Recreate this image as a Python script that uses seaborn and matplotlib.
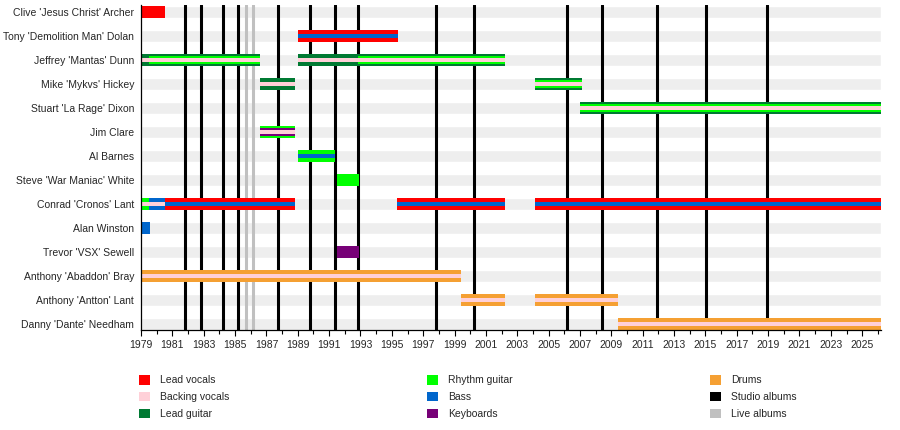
import matplotlib
matplotlib.use("Agg")
import matplotlib.pyplot as plt
from matplotlib.patches import Patch
import seaborn as sns

# band members, top to bottom
members = [
    "Clive 'Jesus Christ' Archer",
    "Tony 'Demolition Man' Dolan",
    "Jeffrey 'Mantas' Dunn",
    "Mike 'Mykvs' Hickey",
    "Stuart 'La Rage' Dixon",
    "Jim Clare",
    "Al Barnes",
    "Steve 'War Maniac' White",
    "Conrad 'Cronos' Lant",
    "Alan Winston",
    "Trevor 'VSX' Sewell",
    "Anthony 'Abaddon' Bray",
    "Anthony 'Antton' Lant",
    "Danny 'Dante' Needham",
]

role_names = ["Lead vocals", "Backing vocals", "Lead guitar",
              "Rhythm guitar", "Bass", "Keyboards", "Drums"]
role_colors = ["#ff0000", "#ffd0d8", "#007a33",
               "#00ff00", "#0066cc", "#770077", "#f5a033"]

start_year = 1979.0
end_year = 2026.2

# (member, from, to, roles - first role is the outer colour)
spans = [
    ("Clive 'Jesus Christ' Archer", 1979.0, 1980.5, ["Lead vocals"]),
    ("Tony 'Demolition Man' Dolan", 1989.0, 1995.4, ["Lead vocals", "Bass"]),
    ("Jeffrey 'Mantas' Dunn", 1979.0, 1979.5, ["Lead guitar", "Backing vocals"]),
    ("Jeffrey 'Mantas' Dunn", 1979.5, 1986.6, ["Lead guitar", "Rhythm guitar", "Backing vocals"]),
    ("Jeffrey 'Mantas' Dunn", 1989.0, 1992.85, ["Lead guitar", "Backing vocals"]),
    ("Jeffrey 'Mantas' Dunn", 1992.85, 2002.2, ["Lead guitar", "Rhythm guitar", "Backing vocals"]),
    ("Mike 'Mykvs' Hickey", 1986.6, 1988.8, ["Lead guitar", "Backing vocals"]),
    ("Mike 'Mykvs' Hickey", 2004.1, 2007.1, ["Lead guitar", "Rhythm guitar", "Backing vocals"]),
    ("Stuart 'La Rage' Dixon", 2007.0, 2026.2, ["Lead guitar", "Rhythm guitar", "Backing vocals"]),
    ("Jim Clare", 1986.6, 1988.8, ["Rhythm guitar", "Keyboards", "Backing vocals"]),
    ("Al Barnes", 1989.0, 1991.4, ["Rhythm guitar", "Bass"]),
    ("Steve 'War Maniac' White", 1991.5, 1992.9, ["Rhythm guitar"]),
    ("Conrad 'Cronos' Lant", 1979.0, 1979.5, ["Rhythm guitar", "Backing vocals"]),
    ("Conrad 'Cronos' Lant", 1979.5, 1980.5, ["Bass", "Backing vocals"]),
    ("Conrad 'Cronos' Lant", 1980.5, 1988.8, ["Lead vocals", "Bass"]),
    ("Conrad 'Cronos' Lant", 1995.3, 2002.2, ["Lead vocals", "Bass"]),
    ("Conrad 'Cronos' Lant", 2004.1, 2026.2, ["Lead vocals", "Bass"]),
    ("Alan Winston", 1979.0, 1979.6, ["Bass"]),
    ("Trevor 'VSX' Sewell", 1991.5, 1992.9, ["Keyboards"]),
    ("Anthony 'Abaddon' Bray", 1979.0, 1999.4, ["Drums", "Backing vocals"]),
    ("Anthony 'Antton' Lant", 1999.4, 2002.2, ["Drums", "Backing vocals"]),
    ("Anthony 'Antton' Lant", 2004.1, 2009.4, ["Drums", "Backing vocals"]),
    ("Danny 'Dante' Needham", 2009.4, 2026.2, ["Drums", "Backing vocals"]),
]

studio_albums = [1981.8, 1982.85, 1984.25, 1985.2, 1987.75, 1989.8, 1991.4,
                 1992.85, 1997.8, 2000.25, 2006.2, 2008.4, 2011.9, 2015.05,
                 2018.95]
live_albums = [1985.7, 1986.15]

sns.set_theme(style="white")
plt.rcParams["font.family"] = ["Liberation Sans", "DejaVu Sans"]

fig = plt.figure(figsize=(9, 4.3), dpi=100)
ax = fig.add_axes([141 / 900, 1 - 330 / 430, 740 / 900, 325 / 430])

color_of = dict(zip(role_names, role_colors))
row_of = {m: i for i, m in enumerate(members)}
bar_h = 0.5

# grey background strip for every row
ax.barh(range(len(members)), end_year - start_year, left=start_year,
        height=bar_h, color="#eeeeee", zorder=1)

for x in studio_albums:
    ax.axvline(x, color="black", lw=2.2, zorder=2)
for x in live_albums:
    ax.axvline(x, color="#c0c0c0", lw=2.2, zorder=2)

for member, x0, x1, roles in spans:
    y = row_of[member]
    if len(roles) == 3:
        heights = [1, 2 / 3, 1 / 3]
    elif len(roles) == 2:
        heights = [1, 1 / 3]
    else:
        heights = [1]
    for k, (role, h) in enumerate(zip(roles, heights)):
        ax.barh(y, x1 - x0, left=x0, height=bar_h * h,
                color=color_of[role], lw=0, zorder=3 + k)

ax.set_xlim(start_year, end_year)
ax.set_ylim(len(members) - 1 + 0.25, -0.3)
ax.set_yticks(range(len(members)))
ax.set_yticklabels(members, fontsize=7.5)
ax.set_xticks(range(1979, 2026, 2))
ax.set_xticks(range(1979, 2027), minor=True)
ax.set_xticklabels([str(y) for y in range(1979, 2026, 2)], fontsize=7.5)
ax.tick_params(axis="y", length=0, pad=5)
ax.tick_params(axis="x", which="major", direction="out", length=4,
               width=0.8, color="black", bottom=True, pad=3)
ax.tick_params(axis="x", which="minor", direction="out", length=3,
               width=0.8, color="black", bottom=True)
for side in ["top", "right"]:
    ax.spines[side].set_visible(False)
for side in ["left", "bottom"]:
    ax.spines[side].set_color("black")
    ax.spines[side].set_linewidth(0.9)
    ax.spines[side].set_zorder(10)
ax.grid(False)

# legend in three columns
legend_names = role_names + ["Studio albums", "Live albums"]
legend_colors = role_colors + ["#000000", "#c0c0c0"]
columns = [legend_names[0:3], legend_names[3:6], legend_names[6:9]]
col_x = [134, 422, 705]
for names, cx in zip(columns, col_x):
    handles = [Patch(facecolor=legend_colors[legend_names.index(n)],
                     edgecolor="none", label=n) for n in names]
    fig.legend(handles=handles, loc="upper left",
               bbox_to_anchor=(cx / 900, 1 - 370 / 430), frameon=False,
               fontsize=7.5, handlelength=1.0, handleheight=1.0,
               handletextpad=1.0, labelspacing=0.62, borderpad=0)

fig.savefig("out.png", dpi=100)
